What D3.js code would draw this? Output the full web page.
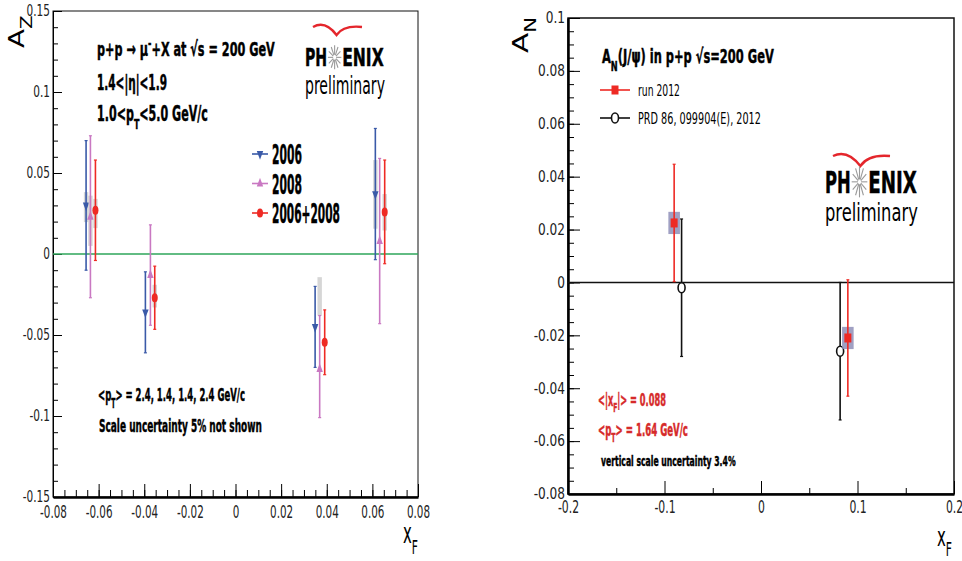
<!DOCTYPE html>
<html>
<head>
<meta charset="utf-8">
<script src="https://cdn.jsdelivr.net/npm/d3@7"></script>
<style>
  body { margin: 0; background: #fff; }
  svg text { font-family: "Liberation Sans Narrow", "Arial Narrow", "DejaVu Sans Condensed", sans-serif; }
</style>
</head>
<body>
<script>
// ---- left panel: A_Z vs x_F (muons) ----
var xf2006 = [-0.0655, -0.0395, 0.0349, 0.0613];
var az2006 = [0.030, -0.036, -0.045, 0.037];
var errLo2006 = [0.040, 0.025, 0.025, 0.0405];
var errHi2006 = [0.040, 0.025, 0.025, 0.0405];
var sys2006 = [[0.0197, 0.0382], null, null, [0.0156, 0.058]];

var xf2008 = [-0.0636, -0.0373, 0.0369, 0.0632];
var az2008 = [0.023, -0.013, -0.071, 0.008];
var errLo2008 = [0.050, 0.031, 0.030, 0.051];
var errHi2008 = [0.050, 0.031, 0.033, 0.051];
var sys2008 = [[0.005, 0.036], null, [-0.038, -0.0143], null];

var xfComb = [-0.0614, -0.0354, 0.0391, 0.0654];
var azComb = [0.027, -0.027, -0.0545, 0.026];
var errLoComb = [0.031, 0.0195, 0.020, 0.032];
var errHiComb = [0.031, 0.0195, 0.020, 0.032];
var sysComb = [[0.016, 0.034], [-0.033, -0.019], null, [0.0145, 0.037]];

var leftLegend = ["2006", "2008", "2006+2008"];
var leftYTicks = [-0.15, -0.1, -0.05, 0, 0.05, 0.1, 0.15];
var leftXTicks = [-0.08, -0.06, -0.04, -0.02, 0, 0.02, 0.04, 0.06, 0.08];

// ---- right panel: A_N(J/psi) vs x_F ----
var xfRun12 = [-0.090, 0.090];
var anRun12 = [0.0225, -0.021];
var errRun12 = [0.0222, 0.022];
var sysRun12 = [0.0042, 0.0042];   // half height of the syst. box
var sysXRun12 = 0.006;              // half width of the syst. box
var xfPrd = [-0.0823, 0.082];
var anPrd = [-0.002, -0.026];
var errPrd = [0.026, 0.026];

var rightLegend = ["run 2012", "PRD 86, 099904(E), 2012"];
var rightYTicks = [-0.08, -0.06, -0.04, -0.02, 0, 0.02, 0.04, 0.06, 0.08, 0.1];
var rightXTicks = [-0.2, -0.1, 0, 0.1, 0.2];

var RED = "#ee2a24", BLUE = "#3a5aa8", PINK = "#c978c2";

var svg = d3.select("body").append("svg")
    .attr("width", 962)
    .attr("height", 561);
svg.append("rect").attr("width", 962).attr("height", 561).attr("fill", "#fff");

// text squeezed to a given width (the original is a horizontally compressed picture)
function fitText(g, x, y, parts, size, width, opt) {
  opt = opt || {};
  var col = opt.fill || "#000";
  var t = g.append("text")
      .attr("font-size", size)
      .attr("font-weight", opt.normal ? "normal" : "bold")
      .attr("fill", col);
  if (!opt.normal) t.attr("stroke", col).attr("stroke-width", 0.45);
  var shift = 0;
  parts.forEach(function(p) {
    var s = typeof p === "string" ? p : p[0];
    var mode = typeof p === "string" ? null : p[1];
    var target = mode === "sub" ? size * 0.38 : mode === "sup" ? -size * 0.42 : 0;
    t.append("tspan")
      .attr("dy", target - shift)
      .attr("font-size", mode ? size * 0.72 : size)
      .text(s);
    shift = target;
  });
  var w = t.node().getBBox().width;
  var k = width / w;
  t.attr("transform", "translate(" + x + "," + y + ")" +
    (opt.rotate ? " rotate(" + opt.rotate + ")" : "") + " scale(" + k + ",1)");
  return t;
}

function squeezeLabels(axisG, size, k, origin) {
  axisG.attr("font-family", null).attr("font-size", null);
  axisG.selectAll("text")
    .attr("font-size", size)
    .attr("fill", "#222")
    .style("transform-box", "fill-box")
    .style("transform-origin", origin)
    .style("transform", "scaleX(" + k + ")");
}

// frame + ROOT style inward ticks
function drawAxes(g, x, y, o) {
  var xr = x.range(), yr = y.range();
  g.append("rect")
    .attr("x", xr[0]).attr("y", yr[1])
    .attr("width", xr[1] - xr[0]).attr("height", yr[0] - yr[1])
    .attr("fill", "none").attr("stroke", "#111").attr("stroke-width", o.frameW);

  // y minor
  g.append("g").attr("transform", "translate(" + xr[0] + ",0)")
    .call(d3.axisLeft(y).tickValues(o.yMinor).tickSize(-o.yMinorLen).tickSizeOuter(0).tickFormat(""))
    .call(function(a) { a.select(".domain").remove(); });
  // y major
  var ya = g.append("g").attr("transform", "translate(" + xr[0] + ",0)")
    .call(d3.axisLeft(y).tickValues(o.yTicks).tickSize(-o.yMajorLen).tickSizeOuter(0)
      .tickPadding(o.yPad).tickFormat(function(d) { return String(d); }));
  ya.select(".domain").attr("stroke-width", o.yAxisW);
  squeezeLabels(ya, o.yLabSize, o.yLabK, "right center");

  // x minor
  g.append("g").attr("transform", "translate(0," + yr[0] + ")")
    .call(d3.axisBottom(x).tickValues(o.xMinor).tickSize(-o.xMinorLen).tickSizeOuter(0).tickFormat(""))
    .call(function(a) { a.select(".domain").remove(); });
  // x major
  var xa = g.append("g").attr("transform", "translate(0," + yr[0] + ")")
    .call(d3.axisBottom(x).tickValues(o.xTicks).tickSize(-o.xMajorLen).tickSizeOuter(0)
      .tickPadding(o.xPad).tickFormat(function(d) { return String(d); }));
  xa.select(".domain").attr("stroke-width", o.xAxisW);
  squeezeLabels(xa, o.xLabSize, o.xLabK, "center");
}

function marker(sel, type, color) {
  if (type === "circle") {
    sel.append("ellipse").attr("rx", 3).attr("ry", 4.5).attr("fill", color);
  } else if (type === "open") {
    sel.append("ellipse").attr("rx", 3.5).attr("ry", 5).attr("fill", "#fff")
      .attr("stroke", color).attr("stroke-width", 1.6);
  } else if (type === "square") {
    sel.append("rect").attr("x", -3.5).attr("y", -4.5).attr("width", 7).attr("height", 9).attr("fill", color);
  } else {
    sel.append("path")
      .attr("d", d3.symbol(d3.symbolTriangle, 28)())
      .attr("transform", "scale(0.8,1.25)" + (type === "down" ? " rotate(180)" : ""))
      .attr("fill", color);
  }
}

function drawSeries(g, x, y, s) {
  var pts = s.xs.map(function(v, i) {
    return { x: v, y: s.ys[i], lo: s.lo[i], hi: s.hi[i], sys: s.sys ? s.sys[i] : null };
  });
  g.selectAll(null).data(pts.filter(function(d) { return d.sys; })).join("rect")
    .attr("x", function(d) { return s.sysHalfX ? x(d.x - s.sysHalfX) : x(d.x) - 2.2; })
    .attr("width", function(d) { return s.sysHalfX ? x(d.x + s.sysHalfX) - x(d.x - s.sysHalfX) : 4.4; })
    .attr("y", function(d) { return y(d.sys[1]); })
    .attr("height", function(d) { return y(d.sys[0]) - y(d.sys[1]); })
    .attr("fill", s.sysFill || "#c4c4c4")
    .attr("opacity", s.sysOpacity || 0.7);

  g.selectAll(null).data(pts).join("line")
    .attr("x1", function(d) { return x(d.x); })
    .attr("x2", function(d) { return x(d.x); })
    .attr("y1", function(d) { return y(d.y - d.lo); })
    .attr("y2", function(d) { return y(d.y + d.hi); })
    .attr("stroke", s.color).attr("stroke-width", 1.6);
  // small end caps
  [function(d) { return y(d.y - d.lo); }, function(d) { return y(d.y + d.hi); }].forEach(function(fy) {
    g.selectAll(null).data(pts).join("line")
      .attr("x1", function(d) { return x(d.x) - 1.5; })
      .attr("x2", function(d) { return x(d.x) + 1.5; })
      .attr("y1", fy).attr("y2", fy)
      .attr("stroke", s.color).attr("stroke-width", 1.2);
  });

  g.selectAll(null).data(pts).join("g")
    .attr("transform", function(d) { return "translate(" + x(d.x) + "," + y(d.y) + ")"; })
    .each(function() { marker(d3.select(this), s.marker, s.color); });
}

function drawLogo(g, o) {
  var l = g.append("g");
  // red swoosh
  l.append("path")
    .attr("d", "M" + o.x0 + "," + (o.sy + 4) +
      " Q" + (o.x0 + o.sw * 0.25) + "," + (o.sy - 3) + " " + (o.x0 + o.sw * 0.48) + "," + (o.sy + o.sh) +
      " Q" + (o.x0 + o.sw * 0.62) + "," + (o.sy + 2) + " " + (o.x0 + o.sw) + "," + (o.sy + 4))
    .attr("fill", "none").attr("stroke", "#e4262c").attr("stroke-width", 2.4);
  fitText(l, o.px, o.pBase, ["PH"], o.pSize, o.pw * 0.28);
  fitText(l, o.px + o.pw * 0.47, o.pBase, ["ENIX"], o.pSize, o.pw * 0.53);
  // star glyph standing in for the O
  var cx = o.px + o.pw * 0.375, cy = o.pBase - o.pSize * 0.36;
  d3.range(12).forEach(function(i) {
    var a = i * Math.PI / 6;
    l.append("line")
      .attr("x1", cx + Math.cos(a) * 1.5).attr("y1", cy + Math.sin(a) * 2.5)
      .attr("x2", cx + Math.cos(a) * o.pw * 0.085).attr("y2", cy + Math.sin(a) * o.pSize * 0.5)
      .attr("stroke", "#9a9a9a").attr("stroke-width", 1.1);
  });
  fitText(l, o.px, o.rBase, ["preliminary"], o.rSize, o.rw, { normal: true });
}

// ================= left panel =================
var xL = d3.scaleLinear().domain([-0.08, 0.08]).range([53, 418]);
var yL = d3.scaleLinear().domain([-0.15, 0.15]).range([497, 11]);
var gL = svg.append("g");

drawAxes(gL, xL, yL, {
  frameW: 1, yAxisW: 1, xAxisW: 2.5,
  yTicks: leftYTicks, yMinor: d3.range(-15, 16).map(function(v) { return v / 100; }),
  yMajorLen: 9, yMinorLen: 5, yPad: 3, yLabSize: 15, yLabK: 0.78,
  xTicks: leftXTicks, xMinor: d3.range(-16, 17).map(function(v) { return v / 200; }),
  xMajorLen: 13, xMinorLen: 7, xPad: 8, xLabSize: 18, xLabK: 0.64
});

// zero line
gL.append("line")
  .attr("x1", xL(-0.08)).attr("x2", xL(0.08))
  .attr("y1", yL(0)).attr("y2", yL(0))
  .attr("stroke", "#2ea65a").attr("stroke-width", 1.5);

drawSeries(gL, xL, yL, { xs: xf2006, ys: az2006, lo: errLo2006, hi: errHi2006, sys: sys2006, color: BLUE, marker: "down" });
drawSeries(gL, xL, yL, { xs: xf2008, ys: az2008, lo: errLo2008, hi: errHi2008, sys: sys2008, color: PINK, marker: "up" });
drawSeries(gL, xL, yL, { xs: xfComb, ys: azComb, lo: errLoComb, hi: errHiComb, sys: sysComb, color: RED, marker: "circle" });

// legend
var legColors = [BLUE, PINK, RED], legMarkers = ["down", "up", "circle"];
leftLegend.forEach(function(name, i) {
  var yy = 154 + i * 29.5;
  gL.append("line").attr("x1", 252).attr("x2", 268).attr("y1", yy).attr("y2", yy)
    .attr("stroke", legColors[i]).attr("stroke-width", 1.6);
  marker(gL.append("g").attr("transform", "translate(260," + yy + ")"), legMarkers[i], legColors[i]);
  fitText(gL, 272, yy + 10, [name], 27, name.length === 4 ? 30 : 68);
});

fitText(gL, 97, 56, ["p+p \u2192 \u03bc", ["-", "sup"], "+X at \u221as = 200 GeV"], 20, 178);
fitText(gL, 97, 90, ["1.4<|\u03b7|<1.9"], 20.5, 70);
fitText(gL, 97, 121, ["1.0<p", ["T", "sub"], "<5.0 GeV/c"], 20.5, 111);
fitText(gL, 98, 401, ["<p", ["T", "sub"], "> = 2.4, 1.4, 1.4, 2.4 GeV/c"], 18.5, 147);
fitText(gL, 99, 432, ["Scale uncertainty 5% not shown"], 18.5, 163);

// axis titles
fitText(gL, 24, 48, ["A", ["Z", "sub"]], 22, 33, { normal: true, rotate: -90 });
fitText(gL, 403, 543, ["x", ["F", "sub"]], 28, 15, { normal: true });

drawLogo(gL, { x0: 313, sy: 23, sw: 49, sh: 12, px: 305, pw: 79, pBase: 66, pSize: 24, rBase: 94, rSize: 25, rw: 80 });

// ================= right panel =================
var xR = d3.scaleLinear().domain([-0.2, 0.2]).range([568, 954]);
var yR = d3.scaleLinear().domain([-0.08, 0.1]).range([494, 18]);
var gR = svg.append("g");

drawAxes(gR, xR, yR, {
  frameW: 1.5, yAxisW: 2.5, xAxisW: 2.5,
  yTicks: rightYTicks, yMinor: d3.range(-16, 21).map(function(v) { return v / 200; }),
  yMajorLen: 12, yMinorLen: 6, yPad: 3, yLabSize: 15, yLabK: 0.9,
  xTicks: rightXTicks, xMinor: [-0.15, -0.05, 0.05, 0.15],
  xMajorLen: 13, xMinorLen: 6, xPad: 6, xLabSize: 18, xLabK: 0.67
});

gR.append("line")
  .attr("x1", xR(-0.2)).attr("x2", xR(0.2))
  .attr("y1", yR(0)).attr("y2", yR(0))
  .attr("stroke", "#111").attr("stroke-width", 1.5);

drawSeries(gR, xR, yR, { xs: xfPrd, ys: anPrd, lo: errPrd, hi: errPrd, color: "#111", marker: "open" });
drawSeries(gR, xR, yR, {
  xs: xfRun12, ys: anRun12, lo: errRun12, hi: errRun12,
  sys: anRun12.map(function(v, i) { return [v - sysRun12[i], v + sysRun12[i]]; }),
  sysHalfX: sysXRun12, sysFill: "#8f8fb8", sysOpacity: 0.85,
  color: RED, marker: "square"
});

// legend
[[RED, "square", 90, 42], ["#111", "open", 118, 123]].forEach(function(e, i) {
  gR.append("line").attr("x1", 600).attr("x2", 630).attr("y1", e[2]).attr("y2", e[2])
    .attr("stroke", e[0]).attr("stroke-width", 1.6);
  marker(gR.append("g").attr("transform", "translate(615," + e[2] + ")"), e[1], e[0]);
  fitText(gR, 638, e[2] + 5.5, [rightLegend[i]], 15, e[3], { normal: true });
});

fitText(gR, 602, 63, ["A", ["N", "sub"], "(J/\u03c8) in p+p \u221as=200 GeV"], 20, 172);
fitText(gR, 598, 406, ["<|x", ["F", "sub"], "|> = 0.088"], 17, 68, { fill: "#d62a2a" });
fitText(gR, 598, 436, ["<p", ["T", "sub"], "> = 1.64 GeV/c"], 17, 90, { fill: "#d62a2a" });
fitText(gR, 601, 466, ["vertical scale uncertainty 3.4%"], 14, 135);

fitText(gR, 528, 53, ["A", ["N", "sub"]], 22, 36, { normal: true, rotate: -90 });
fitText(gR, 937, 546, ["x", ["F", "sub"]], 27, 15, { normal: true });

drawLogo(gR, { x0: 833, sy: 152, sw: 57, sh: 14, px: 825, pw: 92, pBase: 193, pSize: 31, rBase: 221, rSize: 24, rw: 93 });
</script>
</body>
</html>
